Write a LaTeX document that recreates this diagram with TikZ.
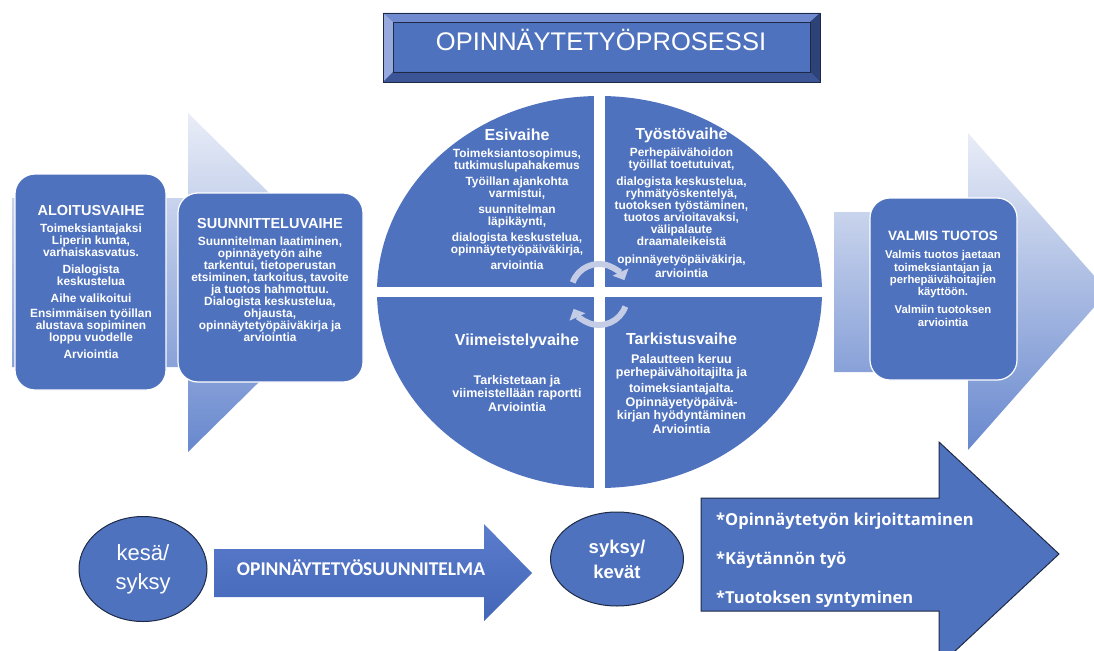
\documentclass[tikz,border=0pt]{standalone}
\usepackage{fontspec}
\setmainfont{Liberation Sans}
\newfontfamily\calfont{Carlito}
\newfontfamily\opsfont{Open Sans}
\usetikzlibrary{arrows.meta,shapes.geometric}
\definecolor{boxblue}{RGB}{79,114,190}
\definecolor{pale}{RGB}{233,237,247}
\definecolor{midblue}{RGB}{104,136,206}
\definecolor{ringgray}{RGB}{196,205,229}
\definecolor{edgedark}{RGB}{30,42,69}
\definecolor{bevlight}{RGB}{150,170,222}
\definecolor{bevtop}{RGB}{112,138,208}
\definecolor{bevdark}{RGB}{45,66,119}
\definecolor{bevbot}{RGB}{60,85,151}
\definecolor{arrowlt}{RGB}{92,124,204}
\definecolor{arrowdk}{RGB}{66,102,184}
\newcommand\vaihe[1]{{\fontsize{14.5}{15}\selectfont #1}}
\newcommand\neljannes[1]{{\fontsize{16}{17}\selectfont #1}}
\tikzset{
  phasebox/.style={fill=boxblue,draw=white,line width=1.2pt,rounded corners=20pt},
  phasetext/.style={text=white,align=center,inner sep=0pt,anchor=north,
    font=\bfseries\fontsize{11.9}{12}\selectfont},
  lowtext/.style={phasetext,font=\bfseries\fontsize{12.5}{13.5}\selectfont},
  bigarrow/.style={top color=pale,bottom color=midblue},
  ring/.style={draw=ringgray,line width=6pt,-{Triangle[length=9pt,width=17pt]}},
  season/.style={ellipse,fill=boxblue,draw=edgedark,line width=1pt,inner sep=0pt,
    text=white,align=center}
}
\begin{document}
\begin{tikzpicture}[x=1pt,y=-1pt]
\useasboundingbox (0,0) rectangle (1094,650);
\clip (0,0) rectangle (1094,650);
% taustanuolet
\path[bigarrow] (12,198) -- (188,198) -- (188,113) -- (360,282.5) -- (188,452) -- (188,367) -- (12,367) -- cycle;
\path[bigarrow] (834,212) -- (968,212) -- (968,133) -- (1108,291.5) -- (968,450) -- (968,372) -- (834,372) -- cycle;
% vaihelaatikot
\draw[phasebox] (15,174) rectangle (166,390);
\node[phasetext] (aloitus) at (91,205.6) {\vaihe{ALOITUSVAIHE}\\[5pt]
  Toimeksiantajaksi\\ Liperin kunta,\\ varhaiskasvatus.\\[5pt]
  Dialogista\\ keskustelua\\[5pt] Aihe valikoitui\\[3pt]
  Ensimmäisen työillan\\ alustava sopiminen\\ loppu vuodelle\\[5pt] Arviointia};
\draw[phasebox] (178,193) rectangle (363,382);
\node[phasetext] (suunnittelu) at (270,218.6) {\vaihe{SUUNNITTELUVAIHE}\\[5pt]
  Suunnitelman laatiminen,\\ opinnäyetyön aihe\\ tarkentui, tietoperustan\\
  etsiminen, tarkoitus, tavoite\\ ja tuotos hahmottuu.\\ Dialogista keskustelua,\\
  ohjausta,\\ opinnäytetyöpäiväkirja ja\\ arviointia};
\draw[phasebox] (870,198) rectangle (1017,380);
\node[phasetext,font=\bfseries\fontsize{11.3}{12.3}\selectfont] (valmis) at (943,231.3)
  {{\fontsize{13.5}{14}\selectfont VALMIS TUOTOS}\\[5.5pt]
  Valmis tuotos jaetaan\\ toimeksiantajan ja\\ perhepäivähoitajien\\ käyttöön.\\[6pt]
  Valmiin tuotoksen\\ arviointia};
% otsikko
\fill[boxblue] (383,13) rectangle (820,82);
\fill[bevtop] (383,13) -- (820,13) -- (810,22) -- (393,22) -- cycle;
\fill[bevlight] (383,13) -- (393,22) -- (393,72) -- (383,82) -- cycle;
\fill[bevdark] (820,13) -- (820,82) -- (810,72) -- (810,22) -- cycle;
\fill[bevbot] (383,82) -- (820,82) -- (810,72) -- (393,72) -- cycle;
\draw[edgedark,line width=0.6pt] (383,13) rectangle (820,82) (393,22) rectangle (810,72);
\node[text=white,inner sep=0pt,anchor=base,font=\fontsize{25.5}{28}\selectfont] (otsikko)
  at (601,51) {OPINNÄYTETYÖPROSESSI};
% prosessiympyra
\fill[boxblue] (599.5,292) ellipse [x radius=222.5pt,y radius=196pt];
\fill[white] (594,90) rectangle (605,495);
\fill[white] (370,287) rectangle (830,297);
\node[phasetext] (esi) at (517,128.5) {\neljannes{Esivaihe}\\[5pt]
  Toimeksiantosopimus,\\ tutkimuslupahakemus\\[4pt] Työillan ajankohta\\ varmistui,\\[4pt]
  suunnitelman\\ läpikäynti,\\[4pt] dialogista keskustelua,\\ opinnäytetyöpäiväkirja,\\[4pt]
  arviointia};
\node[phasetext] (tyosto) at (681.5,127.5) {\neljannes{Työstövaihe}\\[5pt]
  Perhepäivähoidon\\ työillat toetutuivat,\\[5pt] dialogista keskustelua,\\
  ryhmätyöskentelyä,\\ tuotoksen työstäminen,\\ tuotos arvioitavaksi,\\ välipalaute\\
  draamaleikeistä\\[6pt] opinnäyetyöpäiväkirja,\\[2pt] arviointia};
\node[lowtext] (viimeistely) at (517,333.5) {\neljannes{Viimeistelyvaihe}\\[25.5pt]
  Tarkistetaan ja\\ viimeistellään raportti\\ Arviointia};
\node[lowtext] (tarkistus) at (681.5,332.5) {\neljannes{Tarkistusvaihe}\\[5.5pt]
  Palautteen keruu\\ perhepäivähoitajilta ja\\[2.5pt] toimeksiantajalta.\\
  Opinnäyetyöpäivä-\\ kirjan hyödyntäminen\\ Arviointia};
\draw[ring] (599,292) ++(200:28) arc[start angle=200,end angle=335,radius=28];
\draw[ring] (599,297) ++(20:28) arc[start angle=20,end angle=155,radius=28];
% aikajana
\node[season,minimum width=128pt,minimum height=105pt,font=\fontsize{22}{29}\selectfont]
  (kesa) at (143,569) {kesä/\\syksy};
\path[top color=arrowlt,bottom color=arrowdk] (214,549) -- (484,549) -- (484,524) -- (532,573)
  -- (484,621) -- (484,597) -- (214,597) -- cycle;
\node[text=white,font=\calfont\bfseries\fontsize{19.5}{20}\selectfont] (suunnitelma)
  at (361,568) {OPINNÄYTETYÖSUUNNITELMA};
\node[season,minimum width=133pt,minimum height=94pt,font=\bfseries\fontsize{18.5}{25}\selectfont]
  (syksy) at (617,559) {syksy/\\kevät};
\draw[fill=boxblue,draw=edgedark,line width=1pt] (701,498) -- (939,498) -- (939,442) -- (1059,554)
  -- (939,666) -- (939,611) -- (701,611) -- cycle;
\foreach \t [count=\i] in {*Opinnäytetyön kirjoittaminen,*Käytännön työ,*Tuotoksen syntyminen}
  \node[anchor=base west,inner sep=0pt,text=white,font=\opsfont\bfseries\fontsize{16.5}{18}\selectfont]
    (kohta\i) at (716,{525+39*(\i-1)}) {\t};
\end{tikzpicture}
\end{document}
